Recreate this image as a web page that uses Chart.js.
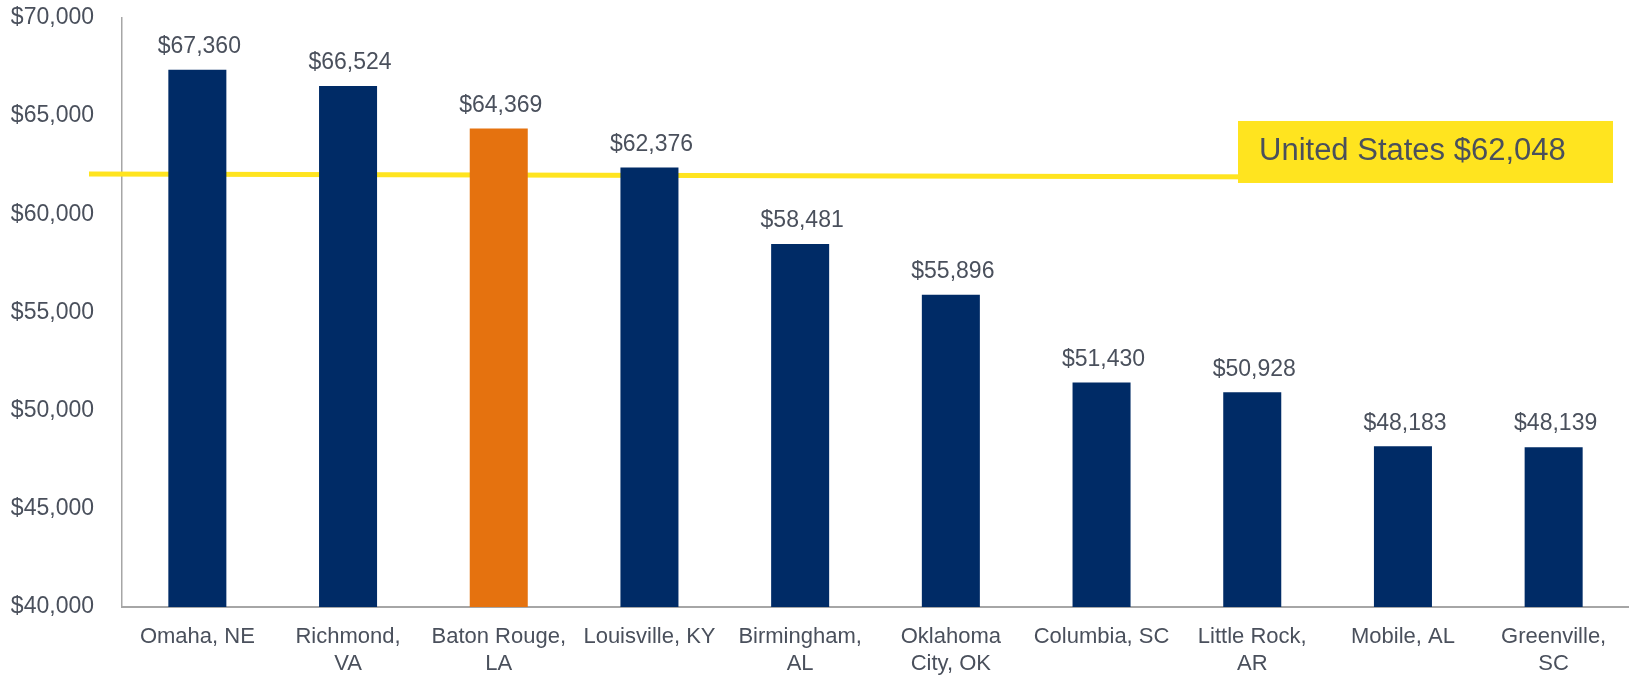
<!DOCTYPE html>
<html>
<head>
<meta charset="utf-8">
<script src="https://cdn.jsdelivr.net/npm/chart.js@4"></script>
<style>
    html, body { margin: 0; padding: 0; background: #ffffff; }
    #wrap { width: 1629px; height: 675px; position: relative; }
</style>
</head>
<body>
<div id="wrap"><canvas id="myChart"></canvas></div>
<script>
// datos del grafico
var ciudades = [
    'Omaha, NE', ['Richmond,', 'VA'], ['Baton Rouge,', 'LA'], 'Louisville, KY', ['Birmingham,', 'AL'],
    ['Oklahoma', 'City, OK'], 'Columbia, SC', ['Little Rock,', 'AR'], 'Mobile, AL', ['Greenville,', 'SC']
];
var ingresos = [67360, 66524, 64369, 62376, 58481, 55896, 51430, 50928, 48183, 48139];
var destacado = [false, false, true, false, false, false, false, false, false, false];
var ticksY = [40000, 45000, 50000, 55000, 60000, 65000, 70000];
var usEtiqueta = 'United States $62,048';
var usValor = [62048, 61860]; // inicio y fin de la linea tal como se ve

var AZUL = '#002b66';
var NARANJA = '#e5720f';
var AMARILLO = '#ffe41f';
var TEXTO = '#4a505c';
var FUENTE = '"Liberation Sans", Arial, sans-serif';

var moneda = function (v) {
    return '$' + Number(v).toLocaleString('en-US');
};

var color_barras = [];
destacado.forEach(element => {
    color_barras.push(element ? NARANJA : AZUL);
});

// linea de Estados Unidos detras de las barras
var lineaUS = {
    id: 'lineaUS',
    beforeDatasetsDraw: function (chart) {
        var y = chart.scales.y;
        var ctx = chart.ctx;
        ctx.save();
        ctx.strokeStyle = AMARILLO;
        ctx.lineWidth = 5;
        ctx.beginPath();
        ctx.moveTo(chart.chartArea.left - 33, y.getPixelForValue(usValor[0]));
        ctx.lineTo(1613, y.getPixelForValue(usValor[1]));
        ctx.stroke();
        ctx.restore();
    },
    afterDatasetsDraw: function (chart) {
        var ctx = chart.ctx;
        var meta = chart.getDatasetMeta(0);
        ctx.save();
        ctx.fillStyle = TEXTO;
        ctx.font = '23px ' + FUENTE;
        ctx.textAlign = 'center';
        ctx.textBaseline = 'middle';
        meta.data.forEach(function (bar, i) {
            ctx.fillText(moneda(ingresos[i]), bar.x + 2, bar.y - 23);
        });
        // caja de la etiqueta
        var yc = chart.scales.y.getPixelForValue(usValor[0]);
        ctx.fillStyle = AMARILLO;
        ctx.fillRect(1238, yc - 53, 375, 62);
        ctx.fillStyle = TEXTO;
        ctx.font = '31px ' + FUENTE;
        ctx.textAlign = 'left';
        ctx.fillText(usEtiqueta, 1259, yc - 23);
        ctx.restore();
    }
};

var ctx = document.getElementById('myChart');
var myChart = new Chart(ctx, {
    type: 'bar',
    data: {
        labels: ciudades,
        datasets: [
            {
                label: 'Ingreso',
                data: ingresos,
                backgroundColor: color_barras,
                borderWidth: 0,
                barPercentage: 0.385,
                categoryPercentage: 1
            }
        ]
    },
    plugins: [lineaUS],
    options: {
        responsive: true,
        maintainAspectRatio: false,
        animation: false,
        layout: { padding: 0 },
        plugins: {
            legend: { display: false },
            tooltip: { enabled: false }
        },
        scales: {
            x: {
                grid: { display: false, drawTicks: false },
                border: { color: '#a6a6a6', width: 2 },
                ticks: {
                    color: TEXTO,
                    padding: 17,
                    maxRotation: 0,
                    autoSkip: false,
                    font: { family: FUENTE, size: 22, lineHeight: 1.22 }
                },
                afterFit: function (scale) { scale.height = 68; }
            },
            y: {
                min: ticksY[0],
                max: ticksY[ticksY.length - 1],
                afterBuildTicks: function (scale) {
                    scale.ticks = ticksY.map(v => ({ value: v }));
                },
                // marcas invisibles para separar las etiquetas del eje
                grid: { display: true, drawOnChartArea: false, drawTicks: true, tickLength: 24, color: 'rgba(0,0,0,0)' },
                border: { color: '#a6a6a6', width: 1.5 },
                ticks: {
                    color: TEXTO,
                    padding: 4,
                    font: { family: FUENTE, size: 23 },
                    callback: function (v) { return moneda(v); }
                },
                afterFit: function (scale) { scale.width = 122; }
            }
        }
    }
});
</script>
</body>
</html>
